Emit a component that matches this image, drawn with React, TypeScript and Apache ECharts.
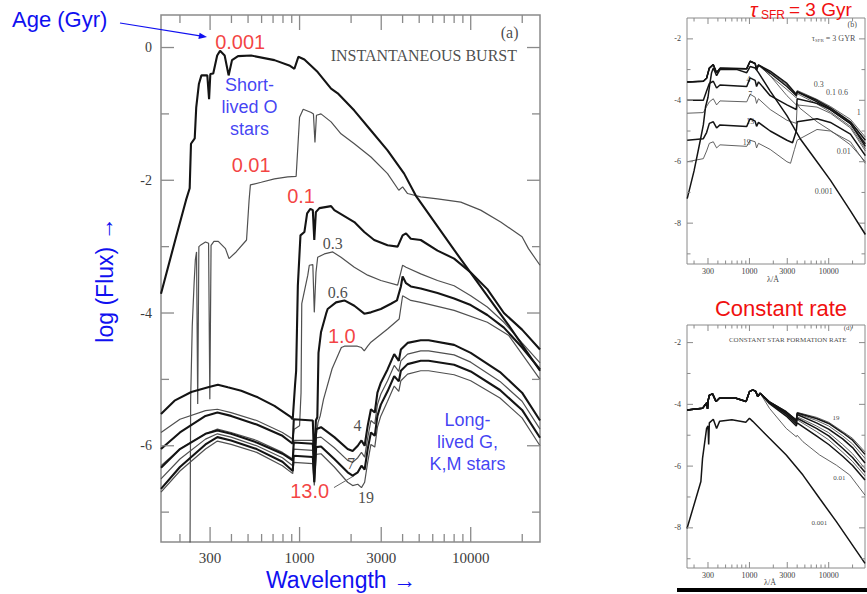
import React, { useEffect, useRef } from "react";
import * as echarts from "echarts";

// ---------------- axes ----------------
const MAIN_X = [155, 25400];
const MAIN_Y = [-7.45, 0.49];
const SMALL_X = [163, 28700];
const B_Y = [-9.33, -1.32];
const D_Y = [-9.3, -1.43];

const xTickValues = [200, 300, 400, 500, 600, 700, 800, 900, 1000, 2000, 3000, 4000, 5000, 6000, 7000, 8000, 9000, 10000, 20000];
const xLabelValues = [300, 1000, 3000, 10000];
const mainYTicks = [-7, -6, -5, -4, -3, -2, -1, 0];
const mainYLabels = [-6, -4, -2, 0];
const smallYTicks = [-9, -8, -7, -6, -5, -4, -3, -2];
const smallYLabels = [-8, -6, -4, -2];

// ---------------- panel (a): instantaneous burst, [wavelength Å, log flux] ----------------
const age0001 = [[155,-3.71],[190,-2.85],[217,-2.3],[228,-2.12],[232,-1.45],[244,-1.37],[249,-0.9],[258,-0.55],[267,-0.42],[289,-0.42],[296,-0.78],[301,-0.4],[313,-0.39],[330,-0.12],[343,-0.05],[365,-0.12],[385,-0.42],[403,-0.19],[437,-0.13],[521,-0.12],[713,-0.19],[871,-0.27],[933,-0.32],[984,-0.14],[1067,-0.18],[1276,-0.37],[1528,-0.62],[1671,-0.69],[2089,-0.95],[2612,-1.25],[3266,-1.55],[4083,-1.9],[4775,-2.23],[8000,-3.05],[16711,-4.19],[25400,-4.87]];
const age001 = [[229,-7.6],[231,-5.3],[236,-4.2],[242,-3.55],[246,-3.2],[250,-3.08],[254,-5.37],[258,-3.0],[266,-2.97],[282,-2.93],[294,-2.95],[299,-5.3],[304,-2.98],[316,-2.92],[335,-2.92],[369,-3.03],[387,-3.18],[426,-3.08],[490,-2.9],[507,-2.3],[516,-2.07],[597,-2.03],[713,-1.98],[853,-1.95],[955,-1.94],[977,-1.5],[1000,-1.05],[1050,-0.93],[1170,-0.98],[1205,-1.0],[1230,-1.43],[1255,-1.02],[1334,-1.0],[1528,-1.12],[1746,-1.3],[2089,-1.45],[2612,-1.65],[3266,-1.9],[3800,-2.15],[4000,-2.1],[4276,-2.2],[5105,-2.25],[6397,-2.28],[8750,-2.33],[11429,-2.45],[14962,-2.63],[19953,-2.85],[21752,-3.03],[25400,-3.28]];
const age01 = [[155,-5.52],[186,-5.32],[233,-5.19],[292,-5.12],[333,-5.08],[381,-5.12],[456,-5.17],[570,-5.27],[713,-5.4],[891,-5.57],[912,-5.6],[940,-5.1],[955,-4.87],[977,-3.59],[1012,-2.83],[1067,-2.78],[1107,-2.5],[1156,-2.43],[1195,-2.45],[1219,-2.9],[1245,-2.48],[1306,-2.42],[1528,-2.39],[1596,-2.45],[2089,-2.63],[2388,-2.78],[2729,-2.9],[3266,-2.98],[3741,-3.0],[4000,-2.83],[4188,-2.8],[4467,-2.88],[5105,-2.9],[6397,-3.06],[7998,-3.18],[10000,-3.39],[12503,-3.64],[15631,-4.0],[19953,-4.25],[25400,-4.55]];
const age03 = [[155,-5.8],[200,-5.6],[282,-5.47],[331,-5.45],[398,-5.5],[562,-5.62],[794,-5.8],[912,-5.9],[930,-5.75],[1000,-5.7],[1020,-5.2],[1030,-3.86],[1117,-3.43],[1140,-3.28],[1195,-3.27],[1219,-3.99],[1247,-3.39],[1276,-3.16],[1396,-3.11],[1563,-3.08],[1746,-3.16],[2089,-3.31],[2500,-3.43],[2985,-3.51],[3741,-3.58],[4000,-3.28],[4188,-3.31],[5105,-3.41],[6397,-3.51],[7998,-3.59],[10000,-3.74],[12503,-3.91],[15631,-4.14],[19953,-4.45],[25400,-4.75]];
const age06 = [[155,-6.05],[200,-5.8],[282,-5.55],[331,-5.5],[398,-5.55],[562,-5.68],[794,-5.85],[912,-5.97],[925,-5.6],[1195,-5.62],[1219,-6.3],[1245,-5.62],[1270,-5.57],[1290,-4.6],[1334,-4.29],[1429,-4.01],[1459,-3.94],[1633,-3.84],[1828,-3.81],[2089,-3.89],[2388,-4.01],[2612,-3.99],[2985,-3.94],[3420,-3.86],[3707,-3.81],[3908,-3.6],[4000,-3.45],[4188,-3.55],[4467,-3.6],[5105,-3.63],[6397,-3.7],[7998,-3.78],[10000,-3.88],[12503,-4.03],[15631,-4.22],[19953,-4.52],[25400,-4.85]];
const age10 = [[155,-6.3],[200,-6.05],[282,-5.82],[331,-5.75],[398,-5.8],[562,-5.92],[794,-6.1],[912,-6.2],[925,-5.92],[1195,-5.92],[1219,-6.33],[1245,-5.9],[1282,-5.65],[1320,-5.55],[1380,-5.3],[1549,-4.84],[1754,-4.52],[1828,-4.5],[2175,-4.5],[2300,-4.52],[2388,-4.57],[2500,-4.5],[2612,-4.44],[3266,-4.24],[3819,-4.09],[4000,-3.74],[4467,-3.81],[5105,-3.84],[7998,-3.96],[12503,-4.14],[16711,-4.34],[19953,-4.62],[25400,-5.0]];
const age4 = [[155,-6.33],[200,-6.05],[282,-5.82],[331,-5.77],[398,-5.82],[562,-5.95],[794,-6.12],[912,-6.22],[925,-5.95],[1195,-5.97],[1219,-6.35],[1250,-5.75],[1334,-5.72],[1596,-5.87],[1910,-6.05],[2042,-6.08],[2188,-6.0],[2300,-5.92],[2400,-6.0],[2500,-5.7],[2612,-5.45],[2750,-5.5],[2850,-5.2],[2985,-5.05],[3266,-4.85],[3573,-4.62],[3800,-4.72],[3908,-4.55],[4276,-4.45],[5105,-4.41],[5675,-4.41],[7998,-4.48],[10000,-4.6],[14825,-4.89],[19953,-5.2],[25400,-5.62]];
const age7 = [[155,-6.5],[200,-6.2],[282,-5.9],[331,-5.82],[398,-5.87],[562,-6.0],[794,-6.18],[912,-6.3],[925,-6.05],[1195,-6.07],[1219,-6.45],[1250,-5.88],[1334,-5.87],[1596,-6.03],[1910,-6.22],[2042,-6.25],[2188,-6.18],[2300,-6.1],[2400,-6.17],[2500,-5.88],[2612,-5.62],[2750,-5.67],[2850,-5.38],[2985,-5.22],[3266,-5.02],[3573,-4.79],[3800,-4.88],[3908,-4.72],[4276,-4.62],[5105,-4.57],[5675,-4.57],[7998,-4.63],[10000,-4.74],[14825,-5.03],[19953,-5.33],[25400,-5.75]];
const age13 = [[155,-6.65],[200,-6.32],[282,-5.98],[331,-5.87],[398,-5.92],[562,-6.05],[794,-6.24],[912,-6.38],[925,-6.15],[1195,-6.17],[1219,-6.55],[1250,-6.02],[1334,-6.01],[1596,-6.2],[1910,-6.4],[2042,-6.45],[2188,-6.4],[2300,-6.3],[2400,-6.36],[2500,-6.05],[2612,-5.8],[2750,-5.85],[2850,-5.55],[2985,-5.38],[3266,-5.18],[3573,-4.95],[3800,-5.03],[3908,-4.87],[4276,-4.77],[5105,-4.72],[5675,-4.72],[7998,-4.78],[10000,-4.88],[14825,-5.16],[19953,-5.46],[25400,-5.88]];
const age19 = [[155,-6.7],[200,-6.38],[282,-6.05],[331,-5.93],[398,-5.98],[562,-6.1],[794,-6.3],[912,-6.42],[925,-6.25],[1195,-6.27],[1219,-6.6],[1250,-6.13],[1334,-6.12],[1596,-6.32],[1910,-6.55],[2042,-6.6],[2188,-6.58],[2300,-6.63],[2400,-6.55],[2500,-6.25],[2612,-5.98],[2750,-6.02],[2850,-5.72],[2985,-5.55],[3266,-5.33],[3573,-5.1],[3800,-5.18],[3908,-5.02],[4276,-4.92],[5105,-4.87],[5675,-4.87],[7998,-4.93],[10000,-5.02],[14825,-5.28],[19953,-5.58],[25400,-6.0]];
const leader13 = [[1589,-6.63],[2088,-6.45]];

// ---------------- panel (b): tau_SFR = 3 Gyr ----------------
const b0001 = [[164,-7.2],[200,-6.3],[240,-5.3],[262,-4.8],[280,-4.2],[300,-3.9],[315,-3.5],[333,-3.1],[350,-2.95],[385,-3.2],[425,-3.0],[700,-3.0],[925,-3.1],[1019,-2.9],[1180,-2.95],[1300,-3.1],[1828,-3.7],[2972,-4.5],[4365,-5.25],[7118,-6.0],[10496,-6.6],[18800,-7.6],[29000,-8.37]];
const bBundleUV = [[164,-3.4],[262,-3.38],[288,-3.28],[312,-2.95],[350,-2.84],[385,-3.1],[425,-2.96],[925,-2.97],[1019,-2.73],[1180,-2.8],[1230,-3.0],[1300,-2.85]];
const b001Red = [[1828,-3.2],[2972,-3.85],[3900,-4.15],[4000,-4.1],[4300,-4.25],[7118,-4.7],[10496,-4.98],[18800,-5.45],[29000,-6.0]];
const b01Red = [[1828,-3.05],[2972,-3.45],[3900,-3.8],[4000,-3.72],[7118,-4.0],[10496,-4.25],[18800,-4.7],[29000,-5.3]];
const b03Red = [[1828,-3.08],[2972,-3.5],[3900,-3.82],[4000,-3.68],[7118,-3.97],[10496,-4.2],[18800,-4.62],[29000,-5.2]];
const b06Red = [[1828,-3.12],[2972,-3.55],[3900,-3.85],[4000,-3.72],[7118,-4.05],[10496,-4.3],[18800,-4.76],[29000,-5.42]];
const b1Red = [[1828,-3.2],[2972,-3.65],[3900,-3.92],[4000,-3.78],[7118,-4.12],[10496,-4.38],[18800,-4.85],[29000,-5.58]];
const b4 = [[164,-4.0],[262,-4.0],[288,-3.7],[312,-3.45],[350,-3.38],[385,-3.6],[425,-3.5],[925,-3.55],[1019,-3.27],[1180,-3.35],[1230,-3.55],[1300,-3.4],[1828,-3.85],[2972,-4.15],[3900,-4.3],[4000,-3.95],[7118,-4.1],[10496,-4.3],[18800,-4.75],[29000,-5.5]];
const b7 = [[164,-4.42],[262,-4.4],[288,-4.2],[312,-4.05],[350,-3.95],[385,-4.15],[425,-4.02],[925,-4.05],[1019,-3.8],[1180,-3.9],[1230,-4.1],[1300,-3.95],[1828,-4.3],[2972,-4.65],[3900,-4.75],[4000,-4.15],[7118,-4.22],[10496,-4.42],[18800,-4.9],[29000,-5.65]];
const b13 = [[164,-5.3],[262,-5.25],[288,-5.05],[312,-4.75],[350,-4.7],[385,-4.9],[425,-4.8],[925,-4.85],[1019,-4.6],[1180,-4.68],[1230,-4.85],[1300,-4.72],[1828,-5.0],[2972,-5.3],[3500,-5.38],[3900,-5.0],[4000,-4.7],[7118,-4.6],[10496,-4.72],[18800,-5.1],[29000,-5.8]];
const b19 = [[164,-6.0],[262,-5.9],[288,-5.65],[312,-5.4],[350,-5.35],[385,-5.55],[425,-5.45],[925,-5.5],[1019,-5.3],[1180,-5.35],[1230,-5.55],[1300,-5.4],[1828,-5.6],[2972,-6.0],[3300,-6.05],[3700,-5.6],[4000,-5.3],[7118,-4.95],[10496,-5.0],[18800,-5.35],[29000,-6.05]];

// ---------------- panel (d): constant star formation rate ----------------
const d0001 = [[163,-8.02],[211,-7.05],[244,-6.5],[256,-5.75],[288,-4.78],[300,-4.7],[306,-5.3],[312,-4.6],[350,-4.48],[385,-4.78],[420,-4.55],[600,-4.5],[900,-4.58],[1000,-4.45],[1100,-4.55],[1791,-5.1],[2911,-5.64],[4732,-6.29],[7690,-7.05],[12500,-7.8],[28700,-9.15]];
const dCommonUV = [[163,-4.18],[256,-4.13],[275,-4.02],[290,-3.95],[296,-4.15],[300,-3.9],[312,-3.7],[343,-3.66],[379,-3.91],[417,-3.8],[676,-3.8],[907,-3.91],[1000,-3.59],[1102,-3.53],[1200,-3.58],[1274,-3.75],[1365,-3.64]];
const d001Red = [[1791,-4.13],[2911,-4.78],[3900,-5.05],[4000,-5.0],[4732,-5.21],[7690,-5.64],[12500,-5.97],[18450,-6.29],[28700,-6.94]];
const d01Red = [[1791,-3.98],[2911,-4.38],[3900,-4.7],[4000,-4.6],[7000,-5.02],[10000,-5.3],[15000,-5.68],[20000,-5.98],[28700,-6.45]];
const d03Red = [[1791,-3.96],[2911,-4.34],[3900,-4.66],[4000,-4.5],[7000,-4.88],[10000,-5.15],[15000,-5.55],[20000,-5.85],[28700,-6.32]];
const d06Red = [[1791,-3.95],[2911,-4.32],[3900,-4.63],[4000,-4.45],[7000,-4.78],[10000,-5.02],[15000,-5.42],[20000,-5.72],[28700,-6.2]];
const d1Red = [[1791,-3.94],[2911,-4.3],[3900,-4.6],[4000,-4.4],[7000,-4.7],[10000,-4.92],[15000,-5.3],[20000,-5.6],[28700,-6.08]];
const d4Red = [[1791,-3.93],[2911,-4.27],[3900,-4.56],[4000,-4.33],[7000,-4.6],[10000,-4.8],[15000,-5.12],[20000,-5.4],[28700,-5.9]];
const d7Red = [[1791,-3.92],[2911,-4.25],[3900,-4.53],[4000,-4.3],[7000,-4.52],[10000,-4.7],[15000,-5.02],[20000,-5.28],[28700,-5.75]];
const d13Red = [[1791,-3.92],[2911,-4.24],[3900,-4.51],[4000,-4.28],[7000,-4.46],[10000,-4.62],[15000,-4.92],[20000,-5.16],[28700,-5.62]];
const d19Red = [[1791,-3.91],[2911,-4.23],[3900,-4.5],[4000,-4.26],[7000,-4.42],[10000,-4.58],[15000,-4.88],[20000,-5.1],[28700,-5.54]];

// ---------------- annotations (text, [wavelength, log flux]) ----------------
const mainRedLabels = [
  { text: "0.001", at: [450, 0.085] },
  { text: "0.01", at: [521, -1.776] },
  { text: "0.1", at: [1020, -2.23] },
  { text: "1.0", at: [1766, -4.34] },
  { text: "13.0", at: [1145, -6.68] },
];
const mainScanLabels = [
  { text: "0.3", at: [1563, -2.96] },
  { text: "0.6", at: [1670, -3.69] },
  { text: "4", at: [2183, -5.7] },
  { text: "7", at: [1995, -6.27] },
  { text: "19", at: [2445, -6.78] },
];
const mainBlueNotes = [
  { text: "Short-\nlived O\nstars", at: [510, -0.9] },
  { text: "Long-\nlived G,\nK,M stars", at: [9570, -5.95] },
];
const mainHeader = [
  { text: "INSTANTANEOUS BURST", at: [5320, -0.116] },
  { text: "(a)", at: [16870, 0.23] },
];
const bLabels = [
  { text: "(b)", at: [19770, -1.53] },
  { text: "4", at: [970, -3.33] },
  { text: "7", at: [1020, -3.81] },
  { text: "13", at: [1020, -4.68] },
  { text: "19", at: [927, -5.39] },
  { text: "0.3", at: [7470, -3.49] },
  { text: "0.1 0.6", at: [12770, -3.76] },
  { text: "1", at: [23990, -4.41] },
  { text: "0.01", at: [15490, -5.68] },
  { text: "0.001", at: [8650, -6.98] },
];
const bHeader = [{ text: "{a|τ}{s|SFR}{a| = 3 GYR}", at: [11490, -2.0] }];
const dLabels = [
  { text: "(d)", at: [17400, -1.53] },
  { text: "CONSTANT STAR FORMATION RATE", at: [3040, -1.91] },
  { text: "19", at: [12400, -4.45] },
  { text: "0.01", at: [13650, -6.39] },
  { text: "0.001", at: [7640, -7.85] },
];

// ---------------- styles ----------------
const BLUE = "#1010f0";
const RED = "#f01010";
const INK = "#141414";
const THIN = "#505050";
const FRAME = "#8a8a8a";
const TICKTXT = "#3c3c3c";
const SCAN = "#202020";
const SMALLTXT = "#111111";
const SANS = '"Liberation Sans", Arial, sans-serif';
const SERIF = '"Liberation Serif", "DejaVu Serif", serif';

function line(grid: number, data: number[][], thick: boolean, small = false) {
  return {
    type: "line",
    xAxisIndex: grid,
    yAxisIndex: grid,
    data,
    symbol: "none",
    showSymbol: false,
    silent: true,
    z: thick ? 3 : 2,
    lineStyle: { color: thick ? INK : THIN, width: small ? (thick ? 1.5 : 0.9) : thick ? 2.1 : 1.2 },
  };
}

function xTicks(grid: number, yBase: number, big: number, small: number, gap: number, fontSize: number, lw: number) {
  return {
    type: "custom",
    xAxisIndex: grid,
    yAxisIndex: grid,
    silent: true,
    z: 5,
    data: xTickValues.map((v) => [v, yBase]),
    renderItem: (params: any, api: any) => {
      const v = api.value(0);
      const p = api.coord([v, api.value(1)]);
      const cs = params.coordSys;
      const major = xLabelValues.indexOf(v) >= 0;
      const len = major ? big : small;
      const top = cs.y;
      const bot = cs.y + cs.height;
      const children: any[] = [
        { type: "line", shape: { x1: p[0], y1: bot, x2: p[0], y2: bot - len }, style: { stroke: FRAME, lineWidth: lw } },
        { type: "line", shape: { x1: p[0], y1: top, x2: p[0], y2: top + len }, style: { stroke: FRAME, lineWidth: lw } },
      ];
      if (major)
        children.push({
          type: "text",
          style: { text: String(v), x: p[0], y: bot + gap, align: "center", verticalAlign: "top", fill: TICKTXT, fontSize, fontFamily: SERIF },
        });
      return { type: "group", children };
    },
  };
}

function yTicks(grid: number, xBase: number, ticks: number[], labels: number[], big: number, small: number, gap: number, fontSize: number, lw: number) {
  return {
    type: "custom",
    xAxisIndex: grid,
    yAxisIndex: grid,
    silent: true,
    z: 5,
    data: ticks.map((v) => [xBase, v]),
    renderItem: (params: any, api: any) => {
      const v = api.value(1);
      const p = api.coord([api.value(0), v]);
      const cs = params.coordSys;
      const major = labels.indexOf(v) >= 0;
      const len = major ? big : small;
      const l = cs.x;
      const r = cs.x + cs.width;
      const children: any[] = [
        { type: "line", shape: { x1: l, y1: p[1], x2: l + len, y2: p[1] }, style: { stroke: FRAME, lineWidth: lw } },
        { type: "line", shape: { x1: r, y1: p[1], x2: r - len, y2: p[1] }, style: { stroke: FRAME, lineWidth: lw } },
      ];
      if (major)
        children.push({
          type: "text",
          style: { text: String(v), x: l - gap, y: p[1], align: "right", verticalAlign: "middle", fill: TICKTXT, fontSize, fontFamily: SERIF },
        });
      return { type: "group", children };
    },
  };
}

function labels(grid: number, items: { text: string; at: number[] }[], style: any) {
  return {
    type: "scatter",
    xAxisIndex: grid,
    yAxisIndex: grid,
    symbolSize: 1,
    silent: true,
    z: 8,
    itemStyle: { color: "rgba(0,0,0,0)" },
    data: items.map((it) => ({
      value: it.at,
      label: { show: true, position: "inside", formatter: it.text, ...style },
    })),
  };
}

export default function App() {
  const ref = useRef<HTMLDivElement>(null);
  useEffect(() => {
    if (!ref.current) return;
    const chart = echarts.init(ref.current, null, { renderer: "svg" });
    const grids = [
      { left: 161, top: 15, width: 379, height: 527 },
      { left: 687, top: 18, width: 178, height: 246 },
      { left: 687, top: 325, width: 178, height: 243 },
    ].map((g, i) => ({ ...g, show: true, borderColor: FRAME, borderWidth: i === 0 ? 1.5 : 1, backgroundColor: "transparent" }));

    const xAxes = [MAIN_X, SMALL_X, SMALL_X].map((r, i) => ({ type: "log", logBase: 10, gridIndex: i, min: r[0], max: r[1], show: false }));
    const yAxes = [MAIN_Y, B_Y, D_Y].map((r, i) => ({ type: "value", gridIndex: i, min: r[0], max: r[1], show: false }));

    const mainCurves = [age0001, age001, age01, age03, age06, age10, age4, age7, age13, age19];
    const mainThick = [true, false, true, false, true, false, true, false, true, false];
    const bCurves = [
      bBundleUV.concat(b001Red),
      bBundleUV.concat(b01Red),
      bBundleUV.concat(b03Red),
      bBundleUV.concat(b06Red),
      bBundleUV.concat(b1Red),
      b4, b7, b13, b19, b0001,
    ];
    const bThick = [false, true, false, true, false, true, false, true, false, true];
    const dCurves = [
      d0001,
      dCommonUV.concat(d001Red),
      dCommonUV.concat(d01Red),
      dCommonUV.concat(d03Red),
      dCommonUV.concat(d06Red),
      dCommonUV.concat(d1Red),
      dCommonUV.concat(d4Red),
      dCommonUV.concat(d7Red),
      dCommonUV.concat(d13Red),
      dCommonUV.concat(d19Red),
    ];
    const dThick = [true, false, true, false, true, false, true, false, true, false];

    const series: any[] = [];
    mainCurves.forEach((c, i) => series.push(line(0, c, mainThick[i])));
    series.push({ ...line(0, leader13, false), lineStyle: { color: "#666", width: 1 } });
    bCurves.forEach((c, i) => series.push(line(1, c, bThick[i], true)));
    dCurves.forEach((c, i) => series.push(line(2, c, dThick[i], true)));

    series.push(xTicks(0, MAIN_Y[0], 15, 8, 8, 15, 1.3));
    series.push(yTicks(0, MAIN_X[0], mainYTicks, mainYLabels, 13, 8, 9, 14, 1.3));
    series.push(xTicks(1, B_Y[0], 6, 3.5, 3, 8, 1));
    series.push(yTicks(1, SMALL_X[0], smallYTicks, smallYLabels, 6, 3.5, 6, 8, 1));
    series.push(xTicks(2, D_Y[0], 6, 3.5, 3, 8, 1));
    series.push(yTicks(2, SMALL_X[0], smallYTicks, smallYLabels, 6, 3.5, 6, 8, 1));

    series.push(labels(0, mainRedLabels, { color: RED, fontSize: 20, fontFamily: SANS }));
    series.push(labels(0, mainScanLabels, { color: SCAN, fontSize: 16, fontFamily: SERIF }));
    series.push(labels(0, mainBlueNotes, { color: BLUE, fontSize: 18, fontFamily: SANS, lineHeight: 22, align: "center" }));
    series.push(labels(0, mainHeader, { color: SCAN, fontSize: 16, fontFamily: SERIF }));
    series.push(labels(1, bLabels, { color: SMALLTXT, fontSize: 8, fontFamily: SERIF }));
    series.push(
      labels(1, bHeader, {
        color: SMALLTXT,
        rich: { a: { fontSize: 8, fontFamily: SERIF, color: SMALLTXT }, s: { fontSize: 5, fontFamily: SERIF, color: SMALLTXT, padding: [4, 0, 0, 0] } },
      })
    );
    series.push(labels(2, dLabels, { color: SMALLTXT, fontSize: 7, fontFamily: SERIF }));

    const graphic: any[] = [
      { type: "text", x: 12, y: 19, style: { text: "Age (Gyr)", fill: BLUE, fontSize: 22, fontFamily: SANS, verticalAlign: "middle" } },
      { type: "line", shape: { x1: 120, y1: 23, x2: 200, y2: 35.8 }, style: { stroke: BLUE, lineWidth: 1.2 } },
      { type: "polygon", shape: { points: [[207, 37], [198.4, 39.1], [199.6, 32.8]] }, style: { fill: BLUE } },
      { type: "text", x: 105, y: 280, rotation: Math.PI / 2, style: { text: "log (Flux) →", fill: BLUE, fontSize: 23, fontFamily: SANS, align: "center", verticalAlign: "middle" } },
      { type: "text", x: 341, y: 580, style: { text: "Wavelength →", fill: BLUE, fontSize: 23, fontFamily: SANS, align: "center", verticalAlign: "middle" } },
      { type: "text", x: 750, y: 0, style: { text: "τ", fill: RED, fontSize: 20, fontStyle: "italic", fontFamily: SANS, verticalAlign: "top" } },
      { type: "text", x: 761, y: 9, style: { text: "SFR", fill: RED, fontSize: 12, fontFamily: SANS, verticalAlign: "top" } },
      { type: "text", x: 789, y: 0, style: { text: "= 3 Gyr", fill: RED, fontSize: 19, fontFamily: SANS, verticalAlign: "top" } },
      { type: "text", x: 781, y: 308, style: { text: "Constant rate", fill: RED, fontSize: 22, fontFamily: SANS, align: "center", verticalAlign: "middle" } },
      { type: "text", x: 773, y: 279, style: { text: "λ/Å", fill: TICKTXT, fontSize: 8, fontFamily: SERIF, align: "center", verticalAlign: "middle" } },
      { type: "text", x: 770, y: 582, style: { text: "λ/Å", fill: TICKTXT, fontSize: 8, fontFamily: SERIF, align: "center", verticalAlign: "middle" } },
      { type: "rect", shape: { x: 677, y: 588, width: 190, height: 4 }, style: { fill: "#000" } },
    ];

    chart.setOption({
      animation: false,
      backgroundColor: "#ffffff",
      grid: grids,
      xAxis: xAxes,
      yAxis: yAxes,
      series,
      graphic,
    });
    return () => chart.dispose();
  }, []);
  return <div ref={ref} style={{ position: "fixed", left: 0, top: 0, width: 867, height: 594 }} />;
}
